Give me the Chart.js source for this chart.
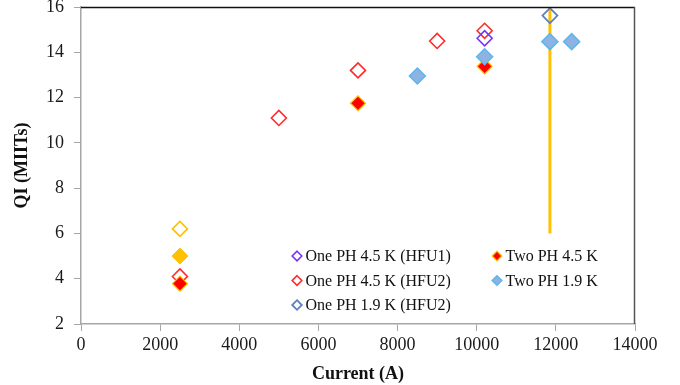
<!DOCTYPE html>
<html>
<head>
<meta charset="utf-8">
<script src="https://cdn.jsdelivr.net/npm/chart.js@4/dist/chart.umd.min.js"></script>
<style>
  html, body { margin: 0; padding: 0; background: #ffffff; }
  canvas { display: block; }
</style>
</head>
<body>
<canvas id="qi" width="680" height="385"></canvas>
<script>
// Quench integral (MIITs) versus current for the heater configurations
const onePh45Hfu1 = [{ x: 10200, y: 14.62 }];
const onePh45Hfu2 = [
  { x: 2500, y: 4.1 }, { x: 5000, y: 11.1 }, { x: 7000, y: 13.2 },
  { x: 9000, y: 14.5 }, { x: 10200, y: 14.95 }
];
const onePh19Hfu2 = [{ x: 11850, y: 15.62 }];
const twoPh45 = [{ x: 2500, y: 3.78 }, { x: 7000, y: 11.75 }, { x: 10200, y: 13.38 }];
const twoPh19 = [{ x: 8500, y: 12.95 }, { x: 10200, y: 13.8 }, { x: 11850, y: 14.47 }, { x: 12400, y: 14.47 }];
const extraOpen = [{ x: 2500, y: 6.2 }];
const extraFilled = [{ x: 2500, y: 5.0 }];
const limitLine = [{ x: 11850, y: 6 }, { x: 11850, y: 16 }];

const xTicks = { min: 0, max: 14000, step: 2000 };
const yTicks = { min: 2, max: 16, step: 2 };

const SERIF = "'Liberation Serif', 'Times New Roman', serif";
const AXIS = '#a6a6a6';

function diamondSet(label, data, fill, stroke, bw, r, order, inLegend) {
  return {
    label, data, order,
    showLine: false,
    pointStyle: 'rectRot',
    pointRadius: r,
    pointHoverRadius: r,
    pointBackgroundColor: fill,
    pointBorderColor: stroke,
    pointBorderWidth: bw,
    backgroundColor: fill,
    borderColor: stroke,
    inLegend
  };
}

const datasets = [
  diamondSet('Two PH 1.9 K', twoPh19, '#8DB3E2', '#5DB6EE', 1.5, 8, 0, true),
  diamondSet('Two PH 4.5 K', twoPh45, '#FF0000', '#FFC000', 1.2, 7.5, 1, true),
  diamondSet('One PH 4.5 K (HFU1)', onePh45Hfu1, 'rgba(0,0,0,0)', '#7336F2', 1.6, 7.5, 2, true),
  diamondSet('One PH 4.5 K (HFU2)', onePh45Hfu2, 'rgba(0,0,0,0)', '#FF2A2A', 1.6, 7.5, 3, true),
  diamondSet('One PH 1.9 K (HFU2)', onePh19Hfu2, 'rgba(0,0,0,0)', '#5F82BE', 1.8, 7.5, 4, true),
  diamondSet('open', extraOpen, 'rgba(0,0,0,0)', '#FFC000', 1.6, 7.5, 5, false),
  diamondSet('filled', extraFilled, '#FFC000', '#FFC000', 1, 8, 6, false),
  {
    type: 'line', label: 'limit', data: limitLine, order: 7,
    borderColor: '#FFC000', borderWidth: 3, pointRadius: 0, showLine: true,
    fill: false, inLegend: false
  }
];

// Legend laid out in two columns, filled top-to-bottom
const legendLayout = [
  ['One PH 4.5 K (HFU1)', 'One PH 4.5 K (HFU2)', 'One PH 1.9 K (HFU2)'],
  ['Two PH 4.5 K', 'Two PH 1.9 K']
];

const frameAndLegend = {
  id: 'frameAndLegend',
  afterDatasetsDraw(chart) {
    const { ctx, chartArea: a } = chart;
    ctx.save();
    // top and right frame lines
    ctx.lineWidth = 1.5;
    ctx.strokeStyle = '#111111';
    ctx.beginPath();
    ctx.moveTo(a.left, a.top + 0.5);
    ctx.lineTo(a.right, a.top + 0.5);
    ctx.stroke();
    ctx.strokeStyle = '#555555';
    ctx.beginPath();
    ctx.moveTo(a.right - 0.5, a.top);
    ctx.lineTo(a.right - 0.5, a.bottom);
    ctx.stroke();

    // legend
    const colX = [a.left + 216, a.left + 416];
    const rowY0 = a.top + 249;
    const rowGap = 24.5;
    ctx.font = '16px ' + SERIF;
    ctx.textBaseline = 'middle';
    ctx.textAlign = 'left';
    legendLayout.forEach((col, ci) => {
      col.forEach((label, ri) => {
        const ds = chart.data.datasets.find(d => d.label === label);
        const cx = colX[ci];
        const cy = rowY0 + ri * rowGap;
        const r = 4.8;
        ctx.beginPath();
        ctx.moveTo(cx, cy - r);
        ctx.lineTo(cx + r, cy);
        ctx.lineTo(cx, cy + r);
        ctx.lineTo(cx - r, cy);
        ctx.closePath();
        ctx.fillStyle = ds.pointBackgroundColor;
        ctx.fill();
        ctx.lineWidth = ds.pointBorderWidth;
        ctx.strokeStyle = ds.pointBorderColor;
        ctx.stroke();
        ctx.fillStyle = '#111111';
        ctx.fillText(label, cx + 8.5, cy + 1);
      });
    });
    ctx.restore();
  }
};

new Chart(document.getElementById('qi'), {
  type: 'scatter',
  data: { datasets },
  options: {
    responsive: false,
    animation: false,
    devicePixelRatio: 1,
    layout: { autoPadding: false, padding: { top: 7, right: 45, left: 12, bottom: 0 } },
    plugins: {
      legend: { display: false },
      tooltip: { enabled: false }
    },
    scales: {
      x: {
        type: 'linear',
        min: xTicks.min, max: xTicks.max,
        ticks: {
          stepSize: xTicks.step,
          color: '#1a1a1a',
          font: { family: SERIF, size: 18 },
          padding: 3,
          maxRotation: 0,
          callback: v => String(v)
        },
        grid: { drawOnChartArea: false, drawTicks: true, tickLength: 7, color: AXIS, lineWidth: 1 },
        border: { color: AXIS, width: 1.5 },
        title: {
          display: true, text: 'Current (A)', color: '#111111',
          font: { family: SERIF, size: 18, weight: 'bold' },
          padding: { top: 0, bottom: 0 }
        },
        afterFit(scale) {
          scale.height = 61;
          scale.paddingLeft = 0;
          scale.paddingRight = 0;
        }
      },
      y: {
        type: 'linear',
        min: yTicks.min, max: yTicks.max,
        ticks: {
          stepSize: yTicks.step,
          color: '#1a1a1a',
          font: { family: SERIF, size: 18 },
          padding: 10,
          callback: v => String(v)
        },
        grid: { drawOnChartArea: false, drawTicks: true, tickLength: 7, color: AXIS, lineWidth: 1 },
        border: { color: AXIS, width: 1.5 },
        title: {
          display: true, text: 'QI (MIITs)', color: '#111111',
          font: { family: SERIF, size: 18, weight: 'bold' },
          padding: { top: 0, bottom: 4 }
        },
        afterFit(scale) {
          scale.width = 69;
          scale.paddingTop = 0;
          scale.paddingBottom = 0;
        }
      }
    }
  },
  plugins: [frameAndLegend]
});
</script>
</body>
</html>
